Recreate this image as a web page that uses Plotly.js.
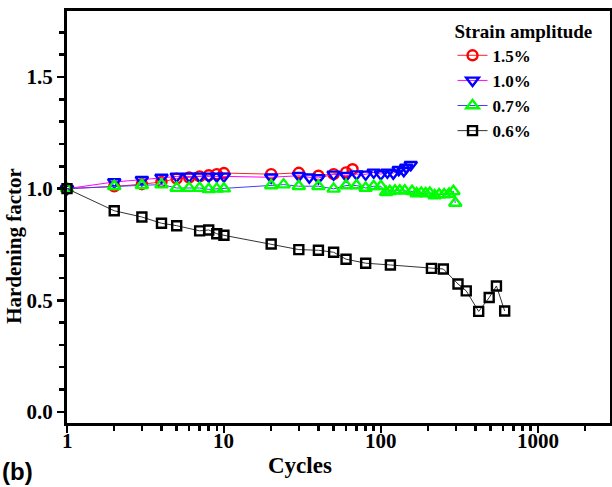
<!DOCTYPE html>
<html>
<head>
<meta charset="utf-8">
<script src="https://cdn.plot.ly/plotly-3.0.1.min.js"></script>
<style>
html,body{margin:0;padding:0;background:#fff;}
#chart{width:612px;height:487px;}
</style>
</head>
<body>
<div id="chart"></div>
<script>
const seriesNames = ['1.5%', '1.0%', '0.7%', '0.6%'];

const cycles15 = [1,2,3,4,5,6,7,8,9,10,20,30,40,50,60,66];
const factor15 = [1.0,1.01,1.02,1.03,1.045,1.05,1.055,1.06,1.065,1.07,1.065,1.071,1.058,1.065,1.073,1.087];

const cycles10 = [1,2,3,4,5,6,7,8,9,10,20,30,35,40,50,60,70,80,90,100,110,120,130,140,145,155];
const factor10 = [1.0,1.03,1.04,1.05,1.055,1.055,1.055,1.055,1.055,1.055,1.051,1.058,1.051,1.048,1.064,1.058,1.065,1.064,1.073,1.065,1.073,1.069,1.085,1.08,1.095,1.107];

const cycles07 = [1,2,3,4,5,6,7,8,9,10,20,24,30,40,50,60,70,80,90,100,108,114,123,132,142,158,169,181,193,205,220,235,253,272,290,298];
const factor07 = [1.0,1.011,1.015,1.018,1.003,1.003,1.003,0.997,0.999,1.0,1.014,1.018,1.011,1.011,0.999,1.014,1.014,1.003,1.011,1.011,0.984,0.988,0.991,0.991,0.991,0.988,0.978,0.981,0.978,0.981,0.969,0.974,0.974,0.976,0.988,0.936];

const cycles06 = [1,2,3,4,5,7,8,9,10,20,30,40,50,60,80,115,210,250,310,350,420,490,545,615];
const factor06 = [1.0,0.901,0.873,0.845,0.834,0.811,0.815,0.798,0.791,0.752,0.727,0.724,0.715,0.684,0.666,0.658,0.643,0.640,0.573,0.542,0.450,0.512,0.564,0.452];

const xMajorTicks = [1, 10, 100, 1000];
const xMajorLabels = ['1', '10', '100', '1000'];
const xMinorTicks = [2,3,4,5,6,7,8,9,20,30,40,50,60,70,80,90,200,300,400,500,600,700,800,900,2000];
const yMajorTicks = [0, 0.5, 1.0, 1.5];
const yMinorTicks = [0.1,0.2,0.3,0.4,0.6,0.7,0.8,0.9,1.1,1.2,1.3,1.4,1.6,1.7];

const SERIF = 'Liberation Serif, Times New Roman, serif';

function mk(name, x, y, lineColor, markerColor, symbol, size) {
  return {
    type: 'scatter', mode: 'lines+markers', name: name, x: x, y: y,
    line: {color: lineColor, width: 1},
    marker: {symbol: symbol, size: size, color: markerColor, line: {color: markerColor, width: 2.4}},
    cliponaxis: false
  };
}

const traces = [
  mk(seriesNames[0], cycles15, factor15, '#ff2020', '#ff0000', 'circle-open', 10),
  mk(seriesNames[1], cycles10, factor10, '#ff00ff', '#0000ff', 'triangle-down-open', 11),
  mk(seriesNames[2], cycles07, factor07, '#4040ff', '#00ff00', 'triangle-up-open', 11),
  mk(seriesNames[3], cycles06, factor06, '#333333', '#000000', 'square-open', 9)
];

// x tick labels placed just under the axis (log axis: annotation x in log10 units)
const xTickAnnotations = xMajorTicks.map((v, i) => ({
  text: xMajorLabels[i], xref: 'x', yref: 'paper', x: Math.log10(v), y: 0, yshift: -18,
  showarrow: false, xanchor: 'center', yanchor: 'middle',
  font: {family: SERIF, size: 21, weight: 'bold', color: '#000'}
}));

const layout = {
  width: 612, height: 487,
  margin: {l: 67, r: 2, t: 11, b: 64, pad: 0},
  paper_bgcolor: '#fff', plot_bgcolor: '#fff',
  showlegend: true,
  font: {family: SERIF, color: '#000', size: 19, weight: 'bold'},
  xaxis: {
    type: 'log', range: [0, 3.46], showgrid: false, zeroline: false,
    showline: true, linecolor: '#000', linewidth: 3, mirror: true,
    tickmode: 'array', tickvals: xMajorTicks, showticklabels: false,
    ticks: 'outside', ticklen: 7, tickwidth: 2.5, tickcolor: '#000',
    minor: {tickmode: 'array', tickvals: xMinorTicks, ticks: 'outside', ticklen: 5, tickwidth: 2.5, tickcolor: '#000', showgrid: false}
  },
  yaxis: {
    range: [-0.05, 1.796], showgrid: false, zeroline: false,
    showline: true, linecolor: '#000', linewidth: 3, mirror: true,
    tickmode: 'array', tickvals: yMajorTicks, tickformat: '.1f',
    ticks: 'outside', ticklen: 7, tickwidth: 2.5, tickcolor: '#000',
    tickfont: {family: SERIF, size: 21, weight: 'bold', color: '#000'},
    minor: {tickmode: 'array', tickvals: yMinorTicks, ticks: 'outside', ticklen: 5, tickwidth: 2.5, tickcolor: '#000', showgrid: false}
  },
  legend: {
    x: 0.71, y: 0.995, xanchor: 'left', yanchor: 'top',
    bgcolor: 'rgba(0,0,0,0)', borderwidth: 0,
    font: {family: SERIF, size: 17, weight: 'bold', color: '#000'},
    title: {text: 'Strain amplitude', side: 'top', font: {family: SERIF, size: 19, weight: 'bold', color: '#000'}},
    tracegroupgap: 0
  },
  annotations: xTickAnnotations.concat([
    {text: 'Hardening factor', xref: 'paper', yref: 'paper', x: 0, xshift: -53, y: 0.43,
     textangle: -90, showarrow: false, xanchor: 'center', yanchor: 'middle',
     font: {family: SERIF, size: 21, weight: 'bold', color: '#000'}},
    {text: 'Cycles', xref: 'paper', yref: 'paper', x: 0.429, y: 0, yshift: -42,
     showarrow: false, xanchor: 'center', yanchor: 'middle',
     font: {family: SERIF, size: 23, weight: 'bold', color: '#000'}},
    {text: '(b)', xref: 'paper', yref: 'paper', x: 0, xshift: -67, y: 0, yshift: -48,
     showarrow: false, xanchor: 'left', yanchor: 'middle',
     font: {family: 'Liberation Sans, Arial, sans-serif', size: 24, weight: 'bold', color: '#000'}}
  ])
};

Plotly.newPlot('chart', traces, layout, {displayModeBar: false, staticPlot: true});
</script>
</body>
</html>
